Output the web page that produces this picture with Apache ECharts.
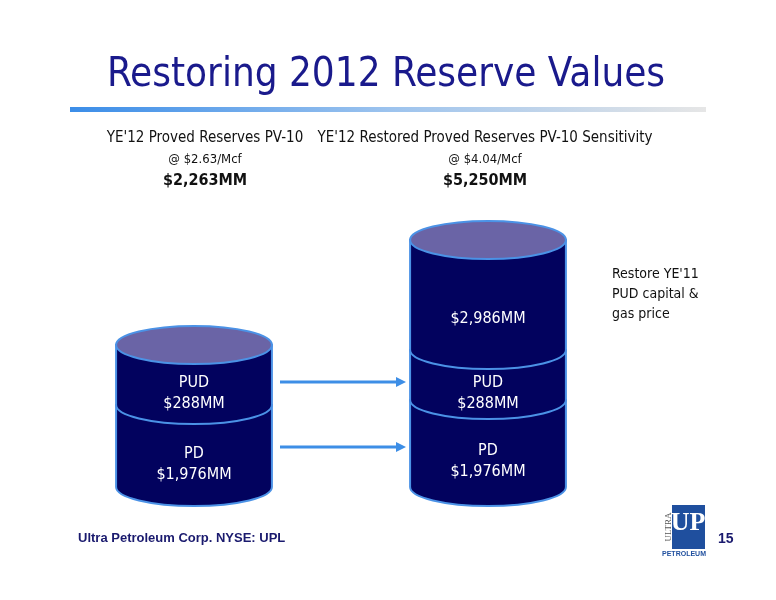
<!DOCTYPE html>
<html>
<head>
<meta charset="utf-8">
<script src="https://cdn.jsdelivr.net/npm/echarts@6/dist/echarts.min.js"></script>
<style>
  html, body { margin: 0; padding: 0; background: #fff; }
  #main { width: 776px; height: 600px; }
</style>
</head>
<body>
<div id="main"></div>
<script>
// Cylinders: categories and stacked segments (heights are drawing units)
const categories = ['Proved', 'Restored'];
const segCategory = [0, 0, 1, 1, 1];
const segHeights = [82, 60, 87, 50, 110];
const segNames = ['PD', 'PUD', 'PD', 'PUD', ''];
const segValues = ['$1,976MM', '$288MM', '$1,976MM', '$288MM', '$2,986MM'];

const headers = ["YE'12 Proved Reserves PV-10", "YE'12 Restored Proved Reserves PV-10 Sensitivity"];
const prices = ['@ $2.63/Mcf', '@ $4.04/Mcf'];
const totals = ['$2,263MM', '$5,250MM'];

const NAVY = '#02025e';
const EDGE = '#4b92e6';
const TOPFILL = '#6a64a6';
const narrow = '"Liberation Sans Narrow", "DejaVu Sans Condensed", sans-serif';

// build stacked segment data: [cat, bottom, top, isTop, name, value]
const segData = [];
const acc = [0, 0];
segHeights.forEach((h, i) => {
  const c = segCategory[i];
  const bottom = acc[c];
  acc[c] += h;
  const isTop = segCategory.lastIndexOf(c) === i ? 1 : 0;
  segData.push([c, bottom, acc[c], isTop, segNames[i], segValues[i]]);
});

function renderCylinder(params, api) {
  const c = api.value(0);
  const pB = api.coord([c, api.value(1)]);
  const pT = api.coord([c, api.value(2)]);
  const isTop = api.value(3);
  const name = segData[params.dataIndex][4];
  const val = segData[params.dataIndex][5];
  const rx = api.size([1, 0])[0] * 0.265;
  const ry = 19;
  const cx = pB[0];
  const children = [{
    type: 'path',
    shape: {
      pathData: `M${cx - rx},${pT[1]} L${cx - rx},${pB[1]} A${rx},${ry} 0 0 0 ${cx + rx},${pB[1]} L${cx + rx},${pT[1]} Z`
    },
    style: { fill: NAVY, stroke: EDGE, lineWidth: 2 }
  }];
  if (isTop) {
    children.push({
      type: 'ellipse',
      shape: { cx: cx, cy: pT[1], rx: rx, ry: ry },
      style: { fill: TOPFILL, stroke: EDGE, lineWidth: 2 }
    });
  }
  const midY = (pB[1] + pT[1]) / 2 + (isTop && !name ? 24 : 18);
  children.push({
    type: 'text',
    style: {
      x: cx, y: midY,
      text: name ? name + '\n' + val : val,
      fill: '#fff', font: '16px ' + narrow,
      align: 'center', verticalAlign: 'middle', lineHeight: 21
    }
  });
  return { type: 'group', children: children };
}

const chart = echarts.init(document.getElementById('main'), null, { renderer: 'canvas' });

const headerText = [];
[205, 485].forEach((x, i) => {
  headerText.push(
    { type: 'text', style: { x: x, y: 131, text: headers[i], font: '15px ' + narrow, fill: '#111', align: 'center' } },
    { type: 'text', style: { x: x, y: 153, text: prices[i], font: '13px ' + narrow, fill: '#111', align: 'center' } },
    { type: 'text', style: { x: x, y: 173, text: totals[i], font: 'bold 16px ' + narrow, fill: '#111', align: 'center' } }
  );
});

function arrow(y) {
  return [
    { type: 'line', shape: { x1: 280, y1: y, x2: 398, y2: y }, style: { stroke: '#3d8ee6', lineWidth: 3 } },
    { type: 'polygon', shape: { points: [[396, y - 5], [406, y], [396, y + 5]] }, style: { fill: '#3d8ee6' } }
  ];
}

chart.setOption({
  animation: false,
  grid: { left: 47, right: 141, top: 187, bottom: 113 },
  xAxis: { type: 'category', data: categories, show: false },
  yAxis: { type: 'value', min: 0, max: 300, show: false },
  series: [{
    type: 'custom',
    renderItem: renderCylinder,
    data: segData,
    encode: { x: 0, y: [1, 2] }
  }],
  graphic: [
    { type: 'text', style: { x: 386, y: 56, text: 'Restoring 2012 Reserve Values', font: '40px ' + narrow, fill: '#1a1a8c', align: 'center' } },
    {
      type: 'rect', shape: { x: 70, y: 107, width: 636, height: 5 },
      style: {
        fill: new echarts.graphic.LinearGradient(0, 0, 1, 0, [
          { offset: 0, color: '#3b8de8' }, { offset: 0.5, color: '#9cc3ee' }, { offset: 1, color: '#e6e6e6' }
        ])
      }
    },
    ...headerText,
    ...arrow(382),
    ...arrow(447),
    { type: 'text', style: { x: 612, y: 264, text: "Restore YE'11\nPUD capital &\ngas price", font: '14px ' + narrow, fill: '#111', lineHeight: 20 } },
    { type: 'text', style: { x: 78, y: 532, text: 'Ultra Petroleum Corp. NYSE: UPL', font: 'bold 13px "Liberation Sans", Arial, sans-serif', fill: '#1a1a6e' } },
    { type: 'text', style: { x: 718, y: 532, text: '15', font: 'bold 14px "Liberation Sans", Arial, sans-serif', fill: '#1a1a6e' } },
    // logo
    { type: 'rect', shape: { x: 672, y: 505, width: 33, height: 44 }, style: { fill: '#1f4f9e' } },
    { type: 'text', style: { x: 688, y: 510, text: 'UP', font: 'bold 26px "Liberation Serif", serif', fill: '#fff', align: 'center' } },
    { type: 'text', x: 669, y: 527, rotation: Math.PI / 2, style: { x: 0, y: 0, text: 'ULTRA', font: '9px "Liberation Serif", serif', fill: '#555', align: 'center', verticalAlign: 'middle' } },
    { type: 'text', style: { x: 684, y: 551, text: 'PETROLEUM', font: 'bold 7px "Liberation Sans", sans-serif', fill: '#1f4f9e', align: 'center' } }
  ]
});
</script>
</body>
</html>
